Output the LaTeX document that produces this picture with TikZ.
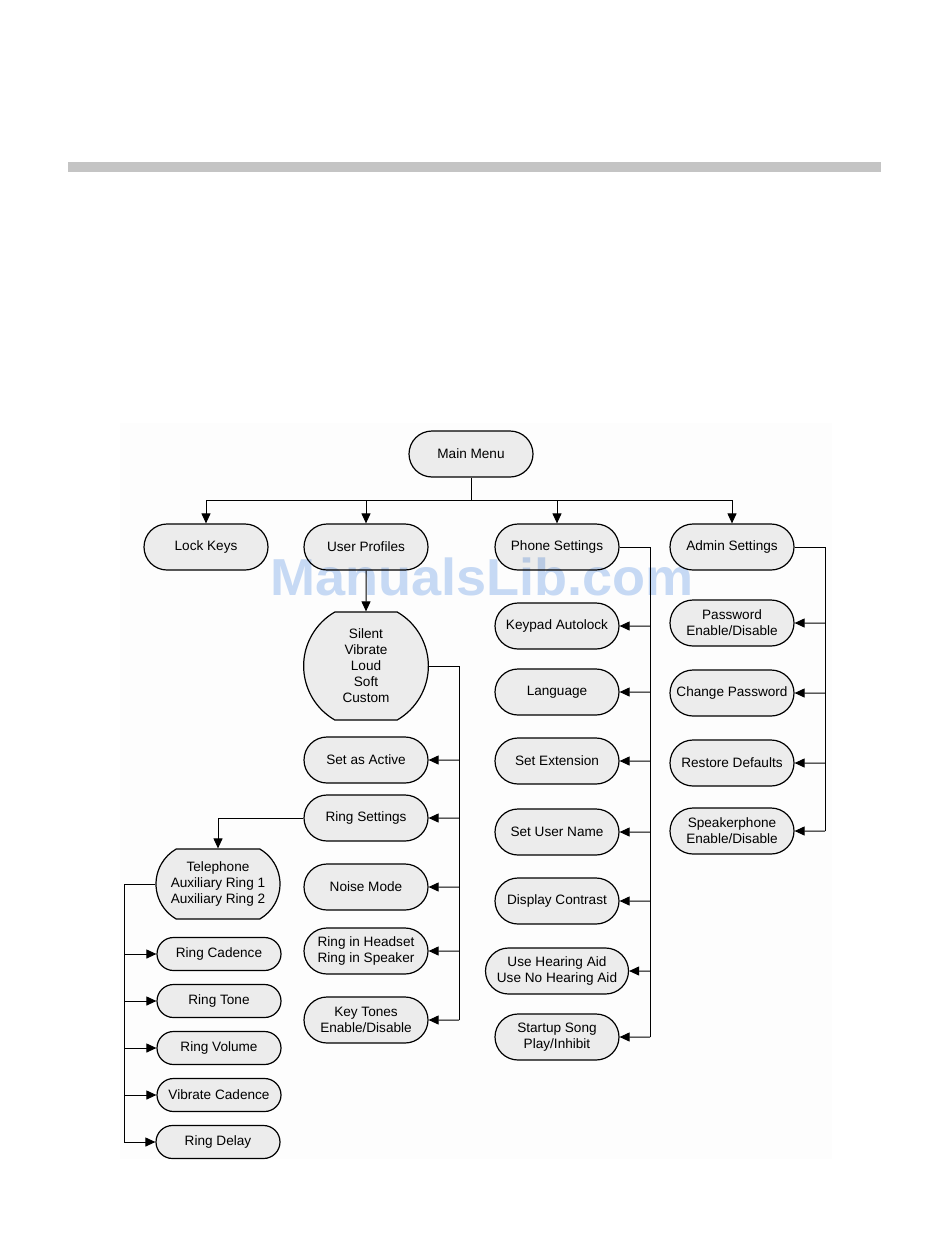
\documentclass[tikz,border=0pt]{standalone}
\usepackage{fontspec}
\setmainfont{Liberation Sans}
\usetikzlibrary{shapes.misc,arrows.meta}
\definecolor{boxgrey}{RGB}{236,236,236}
\definecolor{bargrey}{RGB}{196,196,196}
\definecolor{pagegrey}{RGB}{253,253,253}
\definecolor{wmblue}{RGB}{200,219,246}

\begin{document}
\begin{tikzpicture}[x = 1pt, y = -1pt, line width = 1pt,
                        >={Triangle[length = 10pt, width = 9pt]},
                        item/.style = {rounded rectangle, draw, line width = 1.2pt, fill = boxgrey,
                                       inner sep = 0pt, minimum width = 124pt, minimum height = 46pt,
                                       align = center, font = \fontsize{13.6}{16}\selectfont},
                        small/.style = {item, minimum height = 33pt}]
      \useasboundingbox (0, 0) rectangle (950, 1260);
      \fill [bargrey] (68, 162) rectangle (881, 172);
      \fill [pagegrey] (120, 423) rectangle (832, 1159);
      % top row
      \node [item] (main) at (471, 454){Main Menu};
      \node [item] (lock) at (206, 547){Lock Keys};
      \node [item] (user) at (366, 547){User Profiles};
      \node [item] (phone) at (557, 547){Phone Settings};
      \node [item] (admin) at (732, 547){Admin Settings};
      \coordinate (bus) at (471, 500);
      \draw (main) -- (bus);
      \foreach \n in {lock, user, phone, admin}
        \draw [->] (bus) -| (\n);
      % user profiles
      \node [item, minimum height = 108pt, rounded rectangle arc length = 120] (profiles) at (366, 666){Silent\\Vibrate\\Loud\\Soft\\Custom};
      \node [item] (active) at (366, 760){Set as Active};
      \node [item] (ring) at (366, 818){Ring Settings};
      \node [item] (noise) at (366, 887){Noise Mode};
      \node [item] (headset) at (366, 951){Ring in Headset\\Ring in Speaker};
      \node [item] (keytones) at (366, 1020){Key Tones\\Enable/Disable};
      \coordinate (utrunk) at (459, 667);
      \draw [->] (user) -- (profiles);
      \draw (profiles.east) -| (utrunk |- keytones);
      \foreach \n in {active, ring, noise, headset, keytones}
        \draw [->] (utrunk |- \n) -- (\n);
      % ring settings
      \node [item, minimum height = 70pt, rounded rectangle arc length = 120] (tele) at (218, 884){Telephone\\Auxiliary Ring 1\\Auxiliary Ring 2};
      \node [small] (cadence) at (219, 954){Ring Cadence};
      \node [small] (tone) at (219, 1001){Ring Tone};
      \node [small] (volume) at (219, 1048){Ring Volume};
      \node [small] (vibcad) at (219, 1095){Vibrate Cadence};
      \node [small] (delay) at (218, 1142){Ring Delay};
      \coordinate (ltrunk) at (124, 884);
      \draw [->] (ring.west) -| (tele);
      \draw (tele.west) -| (ltrunk |- delay);
      \foreach \n in {cadence, tone, volume, vibcad, delay}
        \draw [->] (ltrunk |- \n) -- (\n);
      % phone settings
      \node [item] (keypad) at (557, 626){Keypad Autolock};
      \node [item] (language) at (557, 692){Language};
      \node [item] (setext) at (557, 761){Set Extension};
      \node [item] (username) at (557, 832){Set User Name};
      \node [item] (contrast) at (557, 901){Display Contrast};
      \node [item, minimum width = 143pt] (hearing) at (557, 971){Use Hearing Aid\\Use No Hearing Aid};
      \node [item] (startup) at (557, 1037){Startup Song\\Play/Inhibit};
      \coordinate (ptrunk) at (650, 547);
      \draw (phone.east) -| (ptrunk |- startup);
      \foreach \n in {keypad, language, setext, username, contrast, hearing, startup}
        \draw [->] (ptrunk |- \n) -- (\n);
      % admin settings
      \node [item] (password) at (732, 623){Password\\Enable/Disable};
      \node [item] (changepw) at (732, 693){Change Password};
      \node [item] (restore) at (732, 763){Restore Defaults};
      \node [item] (speaker) at (732, 831){Speakerphone\\Enable/Disable};
      \coordinate (atrunk) at (825, 547);
      \draw (admin.east) -| (atrunk |- speaker);
      \foreach \n in {password, changepw, restore, speaker}
        \draw [->] (atrunk |- \n) -- (\n);
      % watermark
      \begin{scope}[blend mode = multiply]
        \node [anchor = base, xscale = 1.04, text = wmblue,
               font = \fontsize{52}{52}\selectfont\bfseries] (wm) at (482, 595){ManualsLib.com};
      \end{scope}
    \end{tikzpicture}
\end{document}
